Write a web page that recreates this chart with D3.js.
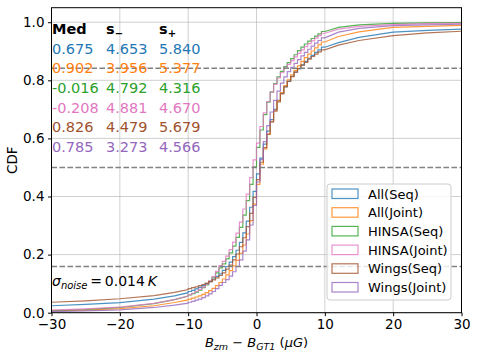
<!DOCTYPE html>
<meta charset="utf-8">
<script src="https://d3js.org/d3.v7.min.js"></script>
<style>
  body { margin: 0; background: #fff; }
  text { font-family: "DejaVu Sans", sans-serif; }
</style>
<body>
<div id="my_dataviz"></div>
<script>

// bin edges (uG): coarse in the tails, 0.5 uG steps in the middle
var xEdges = [-30, -25, -20, -15, -12,
  -10, -9.5, -9, -8.5, -8, -7.5, -7, -6.5, -6, -5.5,
  -5, -4.5, -4, -3.5, -3, -2.5, -2, -1.5, -1, -0.5,
  0, 0.5, 1, 1.5, 2, 2.5, 3, 3.5, 4, 4.5,
  5, 5.5, 6, 6.5, 7, 7.5, 8, 8.5, 9, 9.5,
  10, 12, 15, 20, 25, 30]

// cumulative fractions, one per edge
var allSeq = [0.024, 0.029, 0.035, 0.047, 0.058,
  0.069, 0.073, 0.077, 0.082, 0.087, 0.093, 0.100, 0.107, 0.116, 0.125,
  0.134, 0.146, 0.159, 0.174, 0.193, 0.215, 0.242, 0.275, 0.315, 0.363,
  0.418, 0.478, 0.532, 0.580, 0.625, 0.665, 0.700, 0.731, 0.756, 0.778,
  0.797, 0.814, 0.828, 0.840, 0.853, 0.865, 0.876, 0.886, 0.896, 0.905,
  0.914, 0.930, 0.948, 0.966, 0.972, 0.976]
var allJoint = [0.006, 0.009, 0.014, 0.024, 0.035,
  0.044, 0.047, 0.050, 0.054, 0.058, 0.063, 0.069, 0.076, 0.084, 0.093,
  0.104, 0.116, 0.130, 0.145, 0.161, 0.180, 0.204, 0.233, 0.271, 0.317,
  0.374, 0.442, 0.511, 0.564, 0.614, 0.658, 0.697, 0.730, 0.758, 0.782,
  0.802, 0.819, 0.834, 0.850, 0.865, 0.878, 0.890, 0.901, 0.912, 0.922,
  0.932, 0.951, 0.967, 0.982, 0.986, 0.989]
var hinsaSeq = [0.007, 0.011, 0.018, 0.031, 0.045,
  0.057, 0.061, 0.066, 0.071, 0.078, 0.086, 0.096, 0.108, 0.122, 0.137,
  0.154, 0.168, 0.185, 0.206, 0.229, 0.259, 0.294, 0.336, 0.386, 0.442,
  0.502, 0.569, 0.629, 0.682, 0.725, 0.760, 0.789, 0.812, 0.831, 0.847,
  0.861, 0.875, 0.888, 0.902, 0.914, 0.925, 0.935, 0.944, 0.952, 0.960,
  0.968, 0.982, 0.991, 0.996, 0.998, 0.999]
var hinsaJoint = [0.009, 0.013, 0.019, 0.032, 0.045,
  0.057, 0.062, 0.067, 0.073, 0.080, 0.088, 0.098, 0.110, 0.124, 0.142,
  0.162, 0.177, 0.195, 0.217, 0.243, 0.274, 0.312, 0.357, 0.408, 0.465,
  0.526, 0.584, 0.641, 0.688, 0.727, 0.759, 0.786, 0.808, 0.826, 0.842,
  0.855, 0.868, 0.881, 0.893, 0.905, 0.916, 0.926, 0.936, 0.945, 0.954,
  0.962, 0.976, 0.986, 0.992, 0.995, 0.996]
var wingsSeq = [0.036, 0.041, 0.048, 0.059, 0.070,
  0.080, 0.083, 0.086, 0.089, 0.093, 0.097, 0.102, 0.107, 0.113, 0.120,
  0.128, 0.137, 0.150, 0.164, 0.182, 0.202, 0.227, 0.258, 0.296, 0.342,
  0.397, 0.458, 0.518, 0.568, 0.615, 0.657, 0.694, 0.726, 0.753, 0.777,
  0.796, 0.813, 0.828, 0.840, 0.852, 0.862, 0.873, 0.882, 0.890, 0.898,
  0.905, 0.921, 0.937, 0.954, 0.963, 0.969]
var wingsJoint = [0.004, 0.006, 0.010, 0.018, 0.026,
  0.033, 0.036, 0.039, 0.043, 0.047, 0.052, 0.058, 0.065, 0.073, 0.083,
  0.094, 0.104, 0.114, 0.126, 0.141, 0.159, 0.182, 0.212, 0.251, 0.302,
  0.369, 0.450, 0.527, 0.589, 0.644, 0.691, 0.731, 0.763, 0.790, 0.812,
  0.830, 0.845, 0.858, 0.871, 0.884, 0.896, 0.907, 0.918, 0.928, 0.937,
  0.946, 0.966, 0.979, 0.988, 0.991, 0.993]

var labels = ["All(Seq)", "All(Joint)", "HINSA(Seq)", "HINSA(Joint)", "Wings(Seq)", "Wings(Joint)"]
var colors = ["#1f77b4", "#ff7f0e", "#2ca02c", "#e377c2", "#a0522d", "#9467bd"]
var medians = ["0.675", "0.902", "-0.016", "-0.208", "0.826", "0.785"]
var sMinus = ["4.653", "3.956", "4.792", "4.881", "4.479", "3.273"]
var sPlus = ["5.840", "5.377", "4.316", "4.670", "5.679", "4.566"]
var xTicks = [-30, -20, -10, 0, 10, 20, 30]
var yTicks = [0, 0.2, 0.4, 0.6, 0.8, 1.0]
var sigmaLevels = [0.1587, 0.5, 0.8413]

var series = [allSeq, allJoint, hinsaSeq, hinsaJoint, wingsSeq, wingsJoint]

var width = 478, height = 358
var plotL = 51.5, plotR = 461.5, plotT = 7.7, plotB = 312.7

var svg = d3.select("#my_dataviz")
  .append("svg")
    .attr("width", width)
    .attr("height", height)

var x = d3.scaleLinear().domain([-30, 30]).range([plotL, plotR])
var y = d3.scaleLinear().domain([0, 1.05]).range([plotB, plotT])

svg.append("clipPath").attr("id", "plotclip")
  .append("rect")
    .attr("x", plotL).attr("y", plotT)
    .attr("width", plotR - plotL).attr("height", plotB - plotT)

// grid
svg.append("g")
  .selectAll("line")
  .data(xTicks)
  .enter()
  .append("line")
    .attr("x1", function(d){ return x(d) }).attr("x2", function(d){ return x(d) })
    .attr("y1", plotT).attr("y2", plotB)
    .attr("stroke", "#b0b0b0").attr("stroke-opacity", 0.6).attr("stroke-width", 1)
svg.append("g")
  .selectAll("line")
  .data(yTicks)
  .enter()
  .append("line")
    .attr("x1", plotL).attr("x2", plotR)
    .attr("y1", function(d){ return y(d) }).attr("y2", function(d){ return y(d) })
    .attr("stroke", "#b0b0b0").attr("stroke-opacity", 0.6).attr("stroke-width", 1)

// step cdf path: steps inside [-10, 10], plain segments in the tails
function cdfPath(vals) {
  var p = d3.path()
  p.moveTo(x(xEdges[0]), y(vals[0]))
  for (var i = 1; i < xEdges.length; i++) {
    if (xEdges[i - 1] >= -10 && xEdges[i] <= 10) {
      p.lineTo(x(xEdges[i - 1]), y(vals[i]))
      p.lineTo(x(xEdges[i]), y(vals[i]))
    } else {
      p.lineTo(x(xEdges[i]), y(vals[i]))
    }
  }
  return p.toString()
}

svg.append("g")
  .attr("clip-path", "url(#plotclip)")
  .selectAll("path")
  .data(series)
  .enter()
  .append("path")
    .attr("d", function(d){ return cdfPath(d) })
    .attr("fill", "none")
    .attr("stroke", function(d, i){ return colors[i] })
    .attr("stroke-opacity", 0.8)
    .attr("stroke-width", 1.2)

// 1-sigma / median levels
svg.append("g")
  .selectAll("line")
  .data(sigmaLevels)
  .enter()
  .append("line")
    .attr("x1", plotL).attr("x2", plotR)
    .attr("y1", function(d){ return y(d) }).attr("y2", function(d){ return y(d) })
    .attr("stroke", "#808080").attr("stroke-width", 1.5)
    .attr("stroke-dasharray", "5.5,2.5")

// axes
var xAxis = svg.append("g")
  .attr("transform", "translate(0," + plotB + ")")
  .call(d3.axisBottom(x).tickValues(xTicks).tickSize(3.5).tickPadding(3)
    .tickFormat(function(d){ return d < 0 ? "\u2212" + Math.abs(d) : d }))
var yAxis = svg.append("g")
  .attr("transform", "translate(" + plotL + ",0)")
  .call(d3.axisLeft(y).tickValues(yTicks).tickSize(3.5).tickPadding(3.5)
    .tickFormat(d3.format(".1f")))
xAxis.select(".domain").remove()
yAxis.select(".domain").remove()
svg.selectAll(".tick text").style("font-size", "13.5px").attr("fill", "#000")
  .style("font-family", "DejaVu Sans")
svg.selectAll(".tick line").attr("stroke", "#000")

svg.append("rect")
  .attr("x", plotL).attr("y", plotT)
  .attr("width", plotR - plotL).attr("height", plotB - plotT)
  .attr("fill", "none").attr("stroke", "#000").attr("stroke-width", 1)

// axis labels
svg.append("text")
  .attr("transform", "translate(13," + ((plotT + plotB) / 2) + ") rotate(-90)")
  .attr("text-anchor", "middle")
  .attr("dominant-baseline", "middle")
  .style("font-size", "13.5px")
  .text("CDF")

var xl = svg.append("text")
  .attr("x", (plotL + plotR) / 2).attr("y", 347)
  .attr("text-anchor", "middle")
  .style("font-size", "13px")
xl.append("tspan").style("font-style", "italic").text("B")
xl.append("tspan").style("font-style", "italic").style("font-size", "9.5px").attr("dy", 3).text("zm")
xl.append("tspan").attr("dy", -3).text(" \u2212 ")
xl.append("tspan").style("font-style", "italic").text("B")
xl.append("tspan").style("font-style", "italic").style("font-size", "9.5px").attr("dy", 3).text("GT1")
xl.append("tspan").attr("dy", -3).text(" (")
xl.append("tspan").style("font-style", "italic").text("\u03bcG")
xl.append("tspan").text(")")

// noise annotation
var sn = svg.append("text")
  .attr("x", 52).attr("y", 286)
  .style("font-size", "14px")
sn.append("tspan").style("font-style", "italic").text("\u03c3")
sn.append("tspan").style("font-style", "italic").style("font-size", "10px").attr("dy", 3).text("noise")
sn.append("tspan").attr("dy", -3).text("\u2009=\u20090.014\u2009")
sn.append("tspan").style("font-style", "italic").text("K")

// table of median and widths
var colX = [52, 106, 159]
var head = svg.append("g").style("font-size", "14.5px").style("font-weight", "bold")
head.append("text").attr("x", colX[0]).attr("y", 33.5).text("Med")
var h1 = head.append("text").attr("x", colX[1]).attr("y", 33.5)
h1.append("tspan").text("s")
h1.append("tspan").style("font-size", "10px").attr("dy", 3).text("\u2212")
var h2 = head.append("text").attr("x", colX[2]).attr("y", 33.5)
h2.append("tspan").text("s")
h2.append("tspan").style("font-size", "10px").attr("dy", 3).text("+")

var rows = svg.append("g").style("font-size", "14.5px")
  .selectAll("g")
  .data(labels)
  .enter()
  .append("g")
    .attr("fill", function(d, i){ return colors[i] })
rows.append("text").attr("x", colX[0]).attr("y", function(d, i){ return 53.5 + i * 19.7 })
  .text(function(d, i){ return medians[i] })
rows.append("text").attr("x", colX[1]).attr("y", function(d, i){ return 53.5 + i * 19.7 })
  .text(function(d, i){ return sMinus[i] })
rows.append("text").attr("x", colX[2]).attr("y", function(d, i){ return 53.5 + i * 19.7 })
  .text(function(d, i){ return sPlus[i] })

// legend
var lg = svg.append("g")
lg.append("rect")
  .attr("x", 327).attr("y", 184).attr("width", 124).attr("height", 116)
  .attr("rx", 3)
  .attr("fill", "#fff").attr("fill-opacity", 0.8)
  .attr("stroke", "#cccccc").attr("stroke-width", 1)
lg.selectAll("rect.key")
  .data(labels)
  .enter()
  .append("rect")
    .attr("class", "key")
    .attr("x", 332).attr("y", function(d, i){ return 189 + i * 18.7 })
    .attr("width", 26).attr("height", 9.5)
    .attr("fill", "none")
    .attr("stroke", function(d, i){ return colors[i] })
    .attr("stroke-opacity", 0.8)
    .attr("stroke-width", 1.2)
lg.selectAll("text")
  .data(labels)
  .enter()
  .append("text")
    .attr("x", 368).attr("y", function(d, i){ return 194 + i * 18.7 })
    .attr("dominant-baseline", "central")
    .style("font-size", "13px")
    .text(function(d){ return d })

</script>
</body>
